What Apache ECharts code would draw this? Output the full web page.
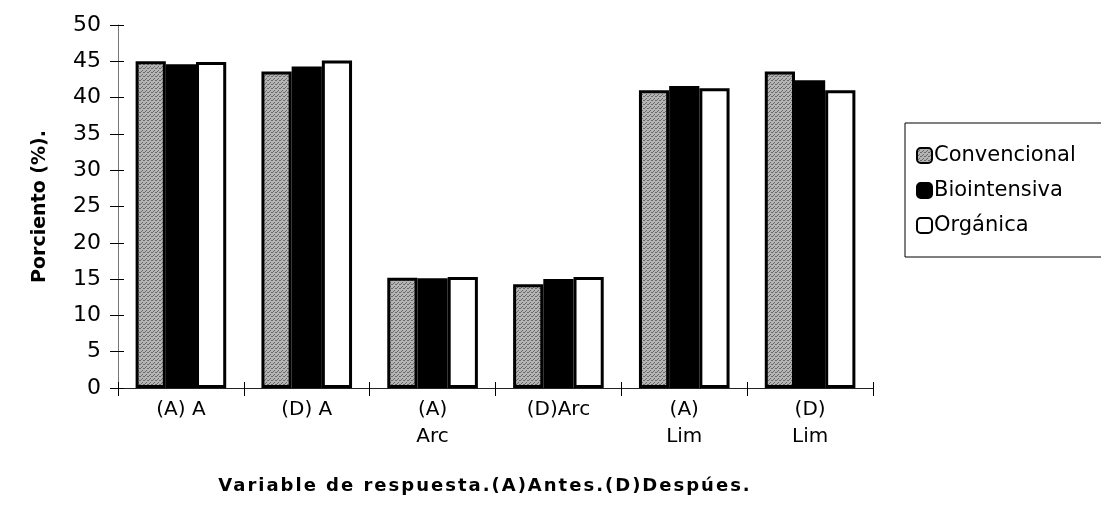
<!DOCTYPE html>
<html>
<head>
<meta charset="utf-8">
<script src="https://cdn.jsdelivr.net/npm/echarts@6/dist/echarts.min.js"></script>
<style>
html,body{margin:0;padding:0;background:#fff;}
#wrap{position:relative;width:1101px;height:518px;}
#chart{width:1101px;height:518px;}
#xname{position:absolute;left:0;width:970px;top:474px;text-align:center;
  font-family:'DejaVu Sans',sans-serif;font-weight:bold;font-size:18px;
  letter-spacing:2px;color:#000;line-height:22px;}
</style>
</head>
<body>
<div id="wrap">
<div id="chart"></div>
<div id="xname"></div>
</div>
<script>
const categories = ['(A) A', '(D) A', '(A)\nArc', '(D)Arc', '(A)\nLim', '(D)\nLim'];
const seriesNames = ['Convencional', 'Biointensiva', 'Orgánica'];
const convencional = [45.0, 43.6, 15.2, 14.3, 41.0, 43.6];
const biointensiva = [44.6, 44.3, 15.1, 15.0, 41.6, 42.4];
const organica = [44.9, 45.1, 15.3, 15.3, 41.3, 41.0];
const yTicks = [0, 5, 10, 15, 20, 25, 30, 35, 40, 45, 50];
const xAxisTitle = 'Variable de respuesta.(A)Antes.(D)Despúes.';
const yAxisTitle = 'Porciento (%).';

document.getElementById('xname').textContent = xAxisTitle;

function makePattern() {
  const c = document.createElement('canvas');
  c.width = 4; c.height = 4;
  const g = c.getContext('2d');
  g.fillStyle = '#b4b4b4';
  g.fillRect(0, 0, 4, 4);
  g.fillStyle = '#6a6a6a';
  g.fillRect(0, 0, 1, 1);
  g.fillRect(2, 2, 1, 1);
  g.fillRect(3, 0, 1, 1);
  g.fillRect(1, 3, 1, 1);
  return c;
}
const grayFill = { image: makePattern(), repeat: 'repeat' };

const chart = echarts.init(document.getElementById('chart'));
const fontFam = 'DejaVu Sans, sans-serif';
const barStyle = { borderColor: '#000', borderWidth: 3 };

chart.setOption({
  animation: false,
  backgroundColor: '#fff',
  textStyle: { fontFamily: fontFam, color: '#000' },
  grid: { left: 118, right: 228, top: 25, bottom: 130, containLabel: false },
  legend: {
    orient: 'vertical',
    left: 905,
    top: 123,
    width: 260,
    height: 135,
    padding: [22, 80, 21, 11],
    itemGap: 14,
    itemWidth: 15,
    itemHeight: 15,
    borderColor: '#000',
    borderWidth: 1,
    textStyle: { fontSize: 21, fontFamily: fontFam, color: '#000', padding: [0, 0, 0, -3] },
    data: seriesNames.map(n => ({ name: n, itemStyle: { borderColor: '#000', borderWidth: 2 } }))
  },
  xAxis: [{
    type: 'category',
    data: categories,
    axisLine: { lineStyle: { color: '#222', width: 1 } },
    axisTick: { show: true, inside: false, length: 8, lineStyle: { color: '#000' } },
    axisLabel: { fontSize: 20, color: '#000', margin: 8, lineHeight: 27, fontFamily: fontFam }
  }, {
    type: 'category',
    data: categories,
    position: 'bottom',
    axisLine: { show: false },
    axisTick: { show: true, inside: true, length: 6, lineStyle: { color: '#000' } },
    axisLabel: { show: false }
  }],
  yAxis: [{
    type: 'value',
    min: 0,
    max: 50,
    interval: 5,
    name: yAxisTitle,
    nameLocation: 'middle',
    nameGap: 68,
    nameRotate: 90,
    nameTextStyle: { fontSize: 19, fontWeight: 'bold', fontFamily: fontFam, color: '#000' },
    axisLine: { show: true, lineStyle: { color: '#777', width: 1 } },
    axisTick: { show: true, inside: false, length: 8, lineStyle: { color: '#000' } },
    splitLine: { show: false },
    axisLabel: { fontSize: 22, color: '#000', margin: 17, fontFamily: fontFam,
      formatter: v => yTicks.includes(v) ? String(v) : '' }
  }, {
    type: 'value',
    min: 0,
    max: 50,
    interval: 5,
    position: 'left',
    axisLine: { show: false },
    axisTick: { show: true, inside: true, length: 6, lineStyle: { color: '#000' } },
    splitLine: { show: false },
    axisLabel: { show: false }
  }],
  series: [
    { name: seriesNames[0], type: 'bar', data: convencional, barGap: '0%', barCategoryGap: '28%',
      itemStyle: Object.assign({ color: grayFill }, barStyle) },
    { name: seriesNames[1], type: 'bar', data: biointensiva,
      itemStyle: Object.assign({ color: '#000' }, barStyle) },
    { name: seriesNames[2], type: 'bar', data: organica,
      itemStyle: Object.assign({ color: '#fff' }, barStyle) }
  ]
});
</script>
</body>
</html>
